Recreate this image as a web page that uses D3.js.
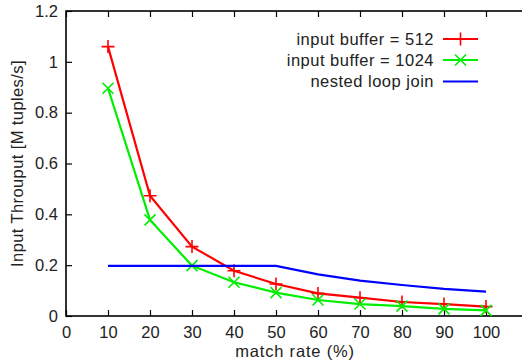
<!DOCTYPE html>
<html><head><meta charset="utf-8">
<script src="https://cdn.jsdelivr.net/npm/d3@7"></script>
<style>body{margin:0;background:#fff}svg{display:block}text{font-family:"Liberation Sans",Arial,sans-serif;fill:#222}</style>
</head><body>
<script>
const matchRate = [10,20,30,40,50,60,70,80,90,100];
const buf512 = [1.06,0.473,0.273,0.178,0.126,0.089,0.072,0.055,0.047,0.037];
const buf1024 = [0.896,0.378,0.198,0.133,0.092,0.063,0.047,0.039,0.028,0.022];
const nestedLoop = [0.197,0.197,0.197,0.197,0.197,0.164,0.139,0.122,0.107,0.096];
const xTicks = [0,10,20,30,40,50,60,70,80,90,100];
const yTicks = [0,0.2,0.4,0.6,0.8,1,1.2];
const seriesNames = ["input buffer = 512","input buffer = 1024","nested loop join"];

const W=522,H=364;
const svg=d3.select("body").append("svg").attr("width",W).attr("height",H);
const L=66,R=528,T=11,B=316;
const x=d3.scaleLinear().domain([0,110]).range([L,R]);
const y=d3.scaleLinear().domain([0,1.2]).range([B,T]);

const series=[
 {name:seriesNames[0],vals:buf512,color:"#ff0000",marker:"plus"},
 {name:seriesNames[1],vals:buf1024,color:"#00ee00",marker:"cross"},
 {name:seriesNames[2],vals:nestedLoop,color:"#0000ff",marker:null}
];

const tl=6;
const gx=svg.append("g").attr("transform",`translate(0,${B})`).call(d3.axisBottom(x).tickValues(xTicks).tickSize(-tl).tickPadding(14).tickFormat(d3.format("d")));
const gy=svg.append("g").attr("transform",`translate(${L},0)`).call(d3.axisLeft(y).tickValues(yTicks).tickSize(-tl).tickPadding(8).tickFormat(d=>d3.format("~g")(d)));
const gt=svg.append("g").attr("transform",`translate(0,${T})`).call(d3.axisTop(x).tickValues(xTicks).tickSize(-tl).tickFormat(""));
const gr=svg.append("g").attr("transform",`translate(${R},0)`).call(d3.axisRight(y).tickValues(yTicks).tickSize(-tl).tickFormat(""));
[gx,gy,gt,gr].forEach(g=>{g.select(".domain").remove();g.selectAll("line").attr("stroke","#000").attr("stroke-width",1.2);g.selectAll("text").style("font-size","16.5px").style("font-family","'Liberation Sans',Arial,sans-serif").attr("fill","#222");});
gx.selectAll("text").attr("dy","0.71em").attr("y",10);
svg.append("rect").attr("x",L).attr("y",T).attr("width",R-L).attr("height",B-T).attr("fill","none").attr("stroke","#000").attr("stroke-width",1.6);

const line=d3.line().x((d,i)=>x(matchRate[i])).y(d=>y(d));
function marker(g,type,cx,cy,color){
  const s=6.5;
  if(type==="plus"){
    g.append("path").attr("d",`M${cx-s},${cy}H${cx+s}M${cx},${cy-s}V${cy+s}`).attr("stroke",color).attr("stroke-width",1.6).attr("fill","none");
  } else if(type==="cross"){
    const t=5.5;
    g.append("path").attr("d",`M${cx-t},${cy-t}L${cx+t},${cy+t}M${cx-t},${cy+t}L${cx+t},${cy-t}`).attr("stroke",color).attr("stroke-width",1.6).attr("fill","none");
  }
}
series.forEach(s=>{
  const g=svg.append("g");
  g.append("path").attr("d",line(s.vals)).attr("fill","none").attr("stroke",s.color).attr("stroke-width",2.2);
  if(s.marker) s.vals.forEach((v,i)=>marker(g,s.marker,x(matchRate[i]),y(v),s.color));
});

const legY=[39,60,81.5];
series.forEach((s,i)=>{
  const ly=legY[i];
  svg.append("text").attr("x",434).attr("y",ly).attr("dy","0.35em").attr("text-anchor","end").style("font-size","16.5px").style("letter-spacing","0.5px").text(s.name);
  svg.append("line").attr("x1",443).attr("x2",478).attr("y1",ly).attr("y2",ly).attr("stroke",s.color).attr("stroke-width",2.2);
  if(s.marker) marker(svg,s.marker,460.5,ly,s.color);
});

svg.append("text").attr("x",(L+R)/2-2).attr("y",357).attr("text-anchor","middle").style("font-size","16.5px").style("letter-spacing","0.8px").text("match rate (%)");
svg.append("text").attr("transform",`translate(23,${(T+B)/2}) rotate(-90)`).attr("text-anchor","middle").style("font-size","16.5px").style("letter-spacing","0.4px").text("Input Throuput [M tuples/s]");
</script>
</body></html>
